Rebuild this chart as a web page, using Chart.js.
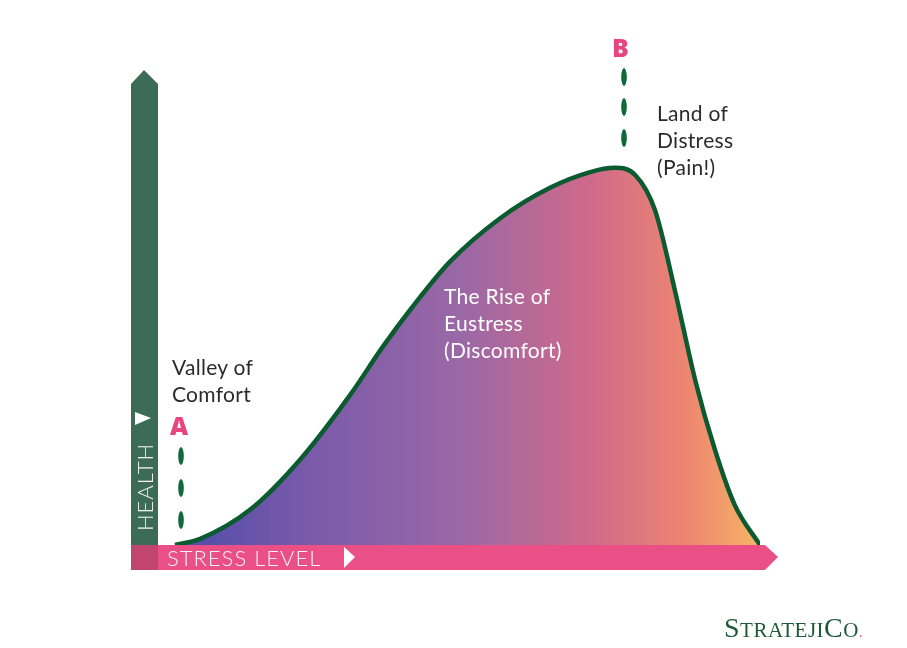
<!DOCTYPE html>
<html>
<head>
<meta charset="utf-8">
<script src="https://cdn.jsdelivr.net/npm/chart.js@4"></script>
<style>
  body { margin:0; width:907px; height:648px; background:#fff; position:relative; overflow:hidden; font-family:Lato, "Open Sans", sans-serif; }
  canvas { position:absolute; left:0; top:0; }
  .lbl { position:absolute; color:#2b2b2b; font-size:21px; line-height:27px; font-weight:400; letter-spacing:0.3px; }
  .letter { position:absolute; color:#e8457e; font-size:25px; font-weight:900; font-family:"Open Sans", sans-serif; }
  .logo { position:absolute; left:724px; top:612px; font-family:"Liberation Serif", serif; color:#1f5a38; font-size:28px; letter-spacing:0.5px; }
  .logo small { font-size:21px; }
  .logo i { color:#e8457e; font-style:normal; font-size:14px; }
</style>
</head>
<body>
<canvas id="c" width="907" height="648"></canvas>
<div class="lbl" style="left:172px;top:353px">Valley of<br>Comfort</div>
<div class="lbl" style="left:444px;top:282px;color:#fff">The Rise of<br>Eustress<br>(Discomfort)</div>
<div class="lbl" style="left:657px;top:99px">Land of<br>Distress<br>(Pain!)</div>
<div class="letter" style="left:170px;top:408px">A</div>
<div class="letter" style="left:612px;top:30px">B</div>
<div class="logo">S<small>TRATEJI</small>C<small>O</small><i>.</i></div>
<script>
// ─── Data (x = stress level, y = health) ─────────────────
const stress = [2.5, 6.7, 15, 23.3, 31.7, 37, 42, 48.3, 56.7, 65, 71.7, 75.8, 79.2, 82.5, 85.8, 89.2, 92.5, 95.8, 100];
const health = [0, 1.3, 7.4, 17.9, 31.6, 41.5, 50, 59.6, 68.8, 75.2, 78.5, 79.4, 77.9, 70.5, 53.7, 34.7, 20, 8.4, 0];
const axisLabels = ['HEALTH', 'STRESS LEVEL'];

// ─── Axis bars + markers ─────────────────────────────────
const decor = {
  id: 'decor',
  beforeDatasetsDraw(chart) {
    const c = chart.ctx;
    c.save();
    c.fillStyle = '#ea4f86';
    c.beginPath();
    c.moveTo(131, 545); c.lineTo(765, 545); c.lineTo(778, 557); c.lineTo(765, 570); c.lineTo(131, 570);
    c.fill();
    c.fillStyle = '#c1466f';
    c.fillRect(131, 545, 27, 25);
    c.restore();
  },
  afterDatasetsDraw(chart) {
    const c = chart.ctx;
    c.save();
    c.fillStyle = '#3d6b5a';
    c.beginPath();
    c.moveTo(131, 545); c.lineTo(131, 84); c.lineTo(144, 70); c.lineTo(158, 84); c.lineTo(158, 545);
    c.fill();
    c.fillStyle = '#ffffff';
    c.beginPath(); c.moveTo(135, 412); c.lineTo(151, 418); c.lineTo(135, 425); c.fill();
    c.beginPath(); c.moveTo(344, 547); c.lineTo(355, 557); c.lineTo(344, 568); c.fill();
    c.font = '300 22px Lato, sans-serif';
    c.fillStyle = '#f2f2f2';
    c.letterSpacing = '1px';
    c.fillText(axisLabels[1], 167, 566);
    c.translate(153, 531); c.rotate(-Math.PI / 2);
    c.fillText(axisLabels[0], 0, 0);
    c.restore();
    c.save();
    c.fillStyle = '#0e6a3a';
    [[181, 456], [181, 488], [181, 520], [624, 77], [624, 107], [624, 138]].forEach(([x, y]) => {
      c.beginPath(); c.ellipse(x, y, 2.8, 9, 0, 0, Math.PI * 2); c.fill();
    });
    c.restore();
  }
};

new Chart(document.getElementById('c'), {
  type: 'line',
  data: {
    datasets: [{
      data: stress.map((x, i) => ({ x, y: health[i] })),
      borderColor: '#0b5a30',
      borderWidth: 4.5,
      pointRadius: 0,
      cubicInterpolationMode: 'monotone',
      fill: 'origin',
      backgroundColor: (ctx) => {
        const { ctx: g, chartArea } = ctx.chart;
        if (!chartArea) return 'transparent';
        const grad = g.createLinearGradient(chartArea.left, 0, chartArea.right, 0);
        grad.addColorStop(0, '#4a4aa8');
        grad.addColorStop(0.25, '#7a5aaa');
        grad.addColorStop(0.5, '#9a68a6');
        grad.addColorStop(0.72, '#d06a8a');
        grad.addColorStop(0.88, '#ee8670');
        grad.addColorStop(1, '#f6b466');
        return grad;
      },
    }],
  },
  options: {
    responsive: false,
    animation: false,
    layout: { padding: { left: 160, right: 147, top: 70, bottom: 103 } },
    plugins: { legend: { display: false }, tooltip: { enabled: false } },
    scales: {
      x: { type: 'linear', min: 0, max: 100, display: false },
      y: { min: 0, max: 100, display: false },
    },
  },
  plugins: [decor],
});
</script>
</body>
</html>
